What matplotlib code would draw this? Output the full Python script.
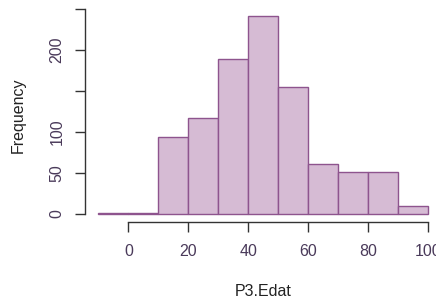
import matplotlib
matplotlib.use('Agg')
import matplotlib.pyplot as plt
import numpy as np

# histogram of P3.Edat (bins of 10 years)
bin_edges = [-10, 0, 10, 20, 30, 40, 50, 60, 70, 80, 90, 100]
counts = [1, 1, 93, 117, 189, 241, 155, 61, 51, 51, 9]
x_ticks = [0, 20, 40, 60, 80, 100]
y_ticks = [0, 50, 100, 150, 200, 250]
y_labels = ['0', '50', '100', '', '200', '']

plt.rcParams['font.family'] = ['Liberation Sans', 'DejaVu Sans']

fig = plt.figure(figsize=(4.36, 3.01), dpi=100)
ax = fig.add_axes([0.1956, 0.2638, 0.8174, 0.709])

lefts = np.array(bin_edges[:-1])
widths = np.diff(bin_edges)
ax.bar(lefts, counts, width=widths, align='edge',
       color='#d6bbd4', edgecolor='#8e548e', linewidth=1.0)

# R-like axis ranges (4% padding)
xr = bin_edges[-1] - bin_edges[0]
ax.set_xlim(bin_edges[0] - 0.04 * xr, bin_edges[-1] + 0.04 * xr)
ymax = max(counts)
ax.set_ylim(-0.04 * ymax, ymax * 1.04)

for s in ['top', 'right']:
    ax.spines[s].set_visible(False)
ax.spines['left'].set_bounds(0, 250)
ax.spines['bottom'].set_bounds(0, 100)
for s in ['left', 'bottom']:
    ax.spines[s].set_color('#333333')
    ax.spines[s].set_linewidth(1.0)

ax.set_xticks(x_ticks)
ax.set_yticks(y_ticks)
ax.set_yticklabels(y_labels, rotation=90, va='center')
ax.tick_params(axis='both', direction='out', length=7, width=1.0,
               color='#333333', labelcolor='#4a3a5a', labelsize=11.5)
ax.tick_params(axis='x', pad=9)
ax.tick_params(axis='y', pad=8)

ax.set_xlabel('P3.Edat', fontsize=11.5, color='#222222', labelpad=18)
ax.set_ylabel('Frequency', fontsize=11.5, color='#222222', labelpad=17)

fig.savefig('out.png', dpi=100)
